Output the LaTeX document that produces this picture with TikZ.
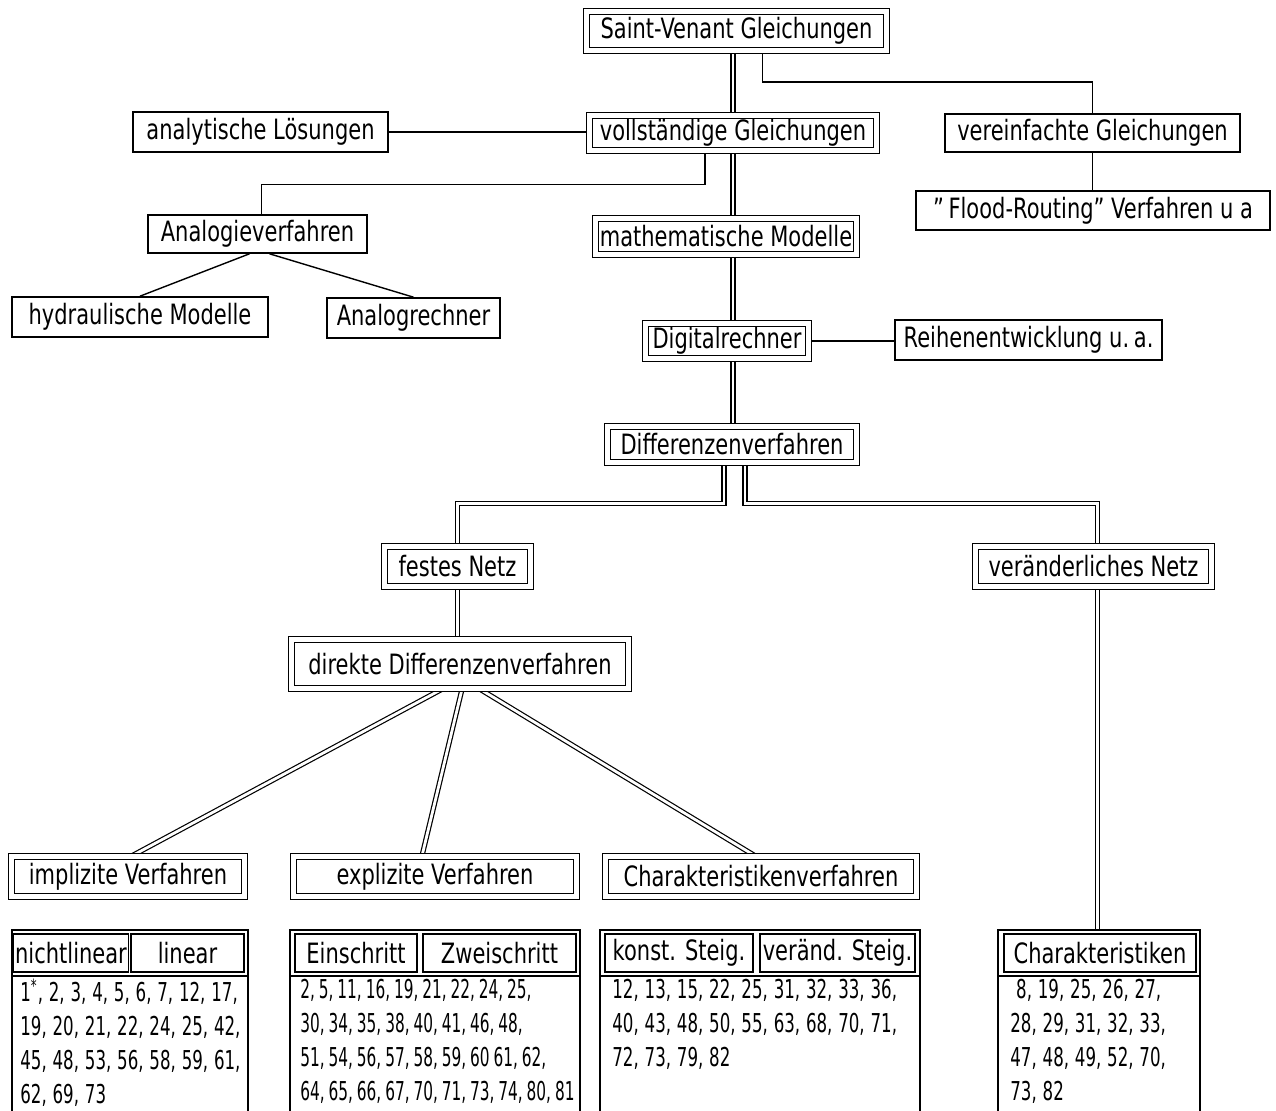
\documentclass[tikz,border=0pt]{standalone}
\usepackage{fontspec}
\setmainfont[FakeStretch=0.75]{DejaVu Sans}
\newfontfamily\numfont[FakeStretch=0.64,WordSpace=1.1]{DejaVu Sans}
\newfontfamily\numfontn[FakeStretch=0.59,WordSpace=0.8]{DejaVu Sans}
\usepackage{tikz}
\usetikzlibrary{positioning,backgrounds}

\tikzset{
	sbox/.style={draw=black,line width=0.8pt,fill=white,inner sep=2pt,font=\fontsize{14pt}{16pt}\selectfont},
	dbox/.style={draw=black,line width=0.7pt,double,double distance=2.2pt,fill=white,inner sep=2pt,font=\fontsize{14pt}{16pt}\selectfont},
	hcell/.style={draw=black,line width=0.6pt,inner sep=1pt,minimum height=19pt,font=\fontsize{14pt}{16pt}\selectfont},
	frame/.style={draw=black,line width=0.9pt,fill=white,inner sep=0pt},
	nums/.style={anchor=north west,align=left,inner sep=0pt,font=\numfont\fontsize{13pt}{17pt}\selectfont},
	sline/.style={line width=0.7pt},
	dline/.style={line width=0.6pt,double,double distance=1.4pt}
}

\begin{document}
\begin{tikzpicture}[x=0.5pt,y=-0.5pt]
	\useasboundingbox (0,0) rectangle (1276,1111);
	\clip (0,0) rectangle (1276,1111);
	% upper part
	\node[dbox,minimum width=150pt,minimum height=19.5pt](SV) at (736.5,31) {Saint-Venant Gleichungen};
	\node[sbox,minimum width=127.5pt,minimum height=20pt](AL) at (260.5,132) {analytische Lösungen};
	\node[dbox,minimum width=143.5pt,minimum height=16.5pt](VG) at (733,133) {vollständige Gleichungen};
	\node[sbox,minimum width=147.5pt,minimum height=19pt](VE) at (1092.5,133) {vereinfachte Gleichungen};
	\node[sbox,minimum width=177pt,minimum height=19.5pt](FR) at (1093,210.5) {"\,Flood-Routing" Verfahren u a};
	\node[sbox,minimum width=109.5pt,minimum height=19pt](AV) at (257.5,234) {Analogieverfahren};
	\node[dbox,minimum width=130.5pt,minimum height=18pt](MM) at (726,236.5) {mathematische Modelle};
	\node[sbox,minimum width=128pt,minimum height=20pt](HM) at (140,317) {hydraulische Modelle};
	\node[sbox,minimum width=86.5pt,minimum height=20pt](AR) at (413.5,318) {Analogrechner};
	\node[dbox,minimum width=81.5pt,minimum height=17.5pt](DR) at (727,341) {Digitalrechner};
	\node[sbox,minimum width=133.5pt,minimum height=20pt](RE) at (1028.5,340) {Reihenentwicklung u.\,a.};
	\node[dbox,minimum width=124.5pt,minimum height=18pt](DV) at (732,444.5) {Differenzenverfahren};
	% lower part
	\node[dbox,minimum width=73pt,minimum height=20pt](FN) at (457.5,566.5) {festes Netz};
	\node[dbox,minimum width=118pt,minimum height=20pt](VN) at (1093.5,566.5) {veränderliches Netz};
	\node[dbox,minimum width=168.5pt,minimum height=24.5pt](DD) at (460,664) {direkte Differenzenverfahren};
	\node[dbox,minimum width=116.5pt,minimum height=20pt](IV) at (128,876.5) {implizite Verfahren};
	\node[dbox,minimum width=141.5pt,minimum height=20pt](EV) at (435,876.5) {explizite Verfahren};
	\node[dbox,minimum width=155.5pt,minimum height=20pt](CV) at (761,876.5) {Charakteristikenverfahren};
	% tables
	\node[frame,minimum width=118pt,minimum height=100pt](T1) at (130,1030) {};
	\node[frame,minimum width=145pt,minimum height=100pt](T2) at (435,1030) {};
	\node[frame,minimum width=160pt,minimum height=100pt](T3) at (760,1030) {};
	\node[frame,minimum width=101pt,minimum height=100pt](T4) at (1099,1030) {};
	\node[hcell,minimum width=55pt](H1a) at (71,953) {nichtlinear};
	\node[hcell,minimum width=56.5pt](H1b) at (187.5,953) {linear};
	\node[hcell,minimum width=61pt](H2a) at (356,953) {Einschritt};
	\node[hcell,minimum width=76.5pt](H2b) at (499.5,953) {Zweischritt};
	\node[hcell,minimum width=74pt](H3a) at (679,953) {konst. Steig.};
	\node[hcell,minimum width=77.5pt](H3b) at (837.5,953) {veränd. Steig.};
	\node[hcell,minimum width=96pt](H4) at (1100,953) {Charakteristiken};
	\foreach \t in {T1,T2,T3,T4}
		\draw[line width=0.9pt] (\t.west |- 0,976) -- (\t.east |- 0,976);
	\node[nums](B1) at (20,979) {1\textsuperscript{*}, 2, 3, 4, 5, 6, 7, 12, 17,\\19, 20, 21, 22, 24, 25, 42,\\45, 48, 53, 56, 58, 59, 61,\\62, 69, 73};
	\node[nums,font=\numfontn\fontsize{13pt}{17pt}\selectfont](B2) at (300,979) {2, 5, 11, 16, 19, 21, 22, 24, 25,\\30, 34, 35, 38, 40, 41, 46, 48,\\51, 54, 56, 57, 58, 59, 60 61, 62,\\64, 65, 66, 67, 70, 71, 73, 74, 80, 81};
	\node[nums](B3) at (612,979) {12, 13, 15, 22, 25, 31, 32, 33, 36,\\40, 43, 48, 50, 55, 63, 68, 70, 71,\\72, 73, 79, 82};
	\node[nums](B4) at (1010,979) {\ 8, 19, 25, 26, 27,\\28, 29, 31, 32, 33,\\47, 48, 49, 52, 70,\\73, 82};
	% connectors
	\begin{scope}[on background layer]
		\draw[dline] (VG.north) -- (VG.north |- SV.south);
		\draw[sline] ([xshift=13pt]SV.south) -- ++(0,31) -| (VE.north);
		\draw[sline] (AL.east) -- (AL.east -| VG.west);
		\draw[sline] ([xshift=-14pt]VG.south) -- ++(0,33) -| ([xshift=2pt]AV.north);
		\draw[sline] (VE.south) -- (VE.south |- FR.north);
		\draw[dline] (VG.south) -- (VG.south |- MM.north);
		\draw[sline] ([xshift=-4pt]AV.south) -- (HM.north);
		\draw[sline] ([xshift=6pt]AV.south) -- (AR.north);
		\draw[dline] (VG.south |- MM.south) -- (VG.south |- DR.north);
		\draw[sline] (DR.east) -- (DR.east -| RE.west);
		\draw[dline] (VG.south |- DR.south) -- (VG.south |- DV.north);
		\draw[dline] ([xshift=-4pt]DV.south) -- ++(0,40) -| (FN.north);
		\draw[dline] ([xshift=6.5pt]DV.south) -- ++(0,40) -| ([xshift=2pt]VN.north);
		\draw[dline] (FN.south) -- (FN.south |- DD.north);
		\draw[dline] ([xshift=2pt]VN.south) -- ([xshift=2pt]VN.south |- T4.north);
		\draw[dline] ([xshift=-9pt]DD.south) -- ([xshift=2pt]IV.north);
		\draw[dline] ([xshift=1pt]DD.south) -- ([xshift=-6.5pt]EV.north);
		\draw[dline] ([xshift=10pt]DD.south) -- ([xshift=-3pt]CV.north);
	\end{scope}
\end{tikzpicture}
\end{document}
